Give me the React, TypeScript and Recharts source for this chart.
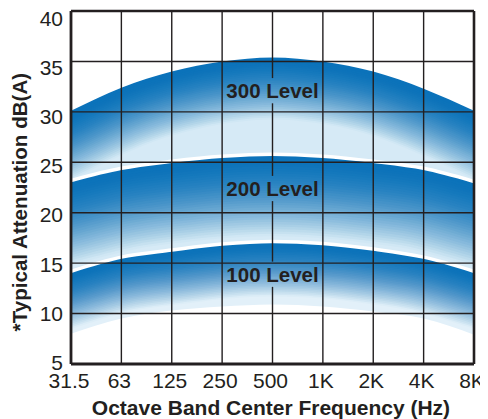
import React from 'react';
import { ComposedChart, Area, Line, XAxis, YAxis, ReferenceLine, ReferenceDot, Label } from 'recharts';

// ---- data ----
const frequencies = ['31.5', '63', '125', '250', '500', '1K', '2K', '4K', '8K'];
const top300 = [30.1, 32.4, 34.0, 35.0, 35.4, 35.0, 34.0, 32.3, 30.1];
const top200 = [23.2, 24.4, 25.1, 25.6, 25.8, 25.6, 25.1, 24.4, 23.1];
const top100 = [14.2, 15.6, 16.3, 16.9, 17.15, 16.95, 16.4, 15.6, 14.2];
const bottom100 = [8.0, 9.5, 10.3, 10.7, 10.9, 10.7, 10.2, 9.5, 7.9];
const yTicks = [5, 10, 15, 20, 25, 30, 35, 40];
const levelNames = ['300 Level', '200 Level', '100 Level'];

const Y_MIN = yTicks[0];
const Y_MAX = yTicks[yTicks.length - 1];

const rows = frequencies.map((f, i) => ({
  f,
  t300: top300[i],
  t200: top200[i],
  t100: top100[i],
  band300: [top200[i], top300[i]],
  band200: [top100[i], top200[i]],
  band100: [bottom100[i], top100[i]],
  sky: [top300[i], Y_MAX],
}));

// ---- styling ----
const FONT = '"Liberation Sans", Arial, Helvetica, sans-serif';
const INK = '#231f20';
const DARK = '#0b72ba';
const LIGHT = '#d6eaf6';
const LIGHT_LOW = '#e2f0f9';

// label centres (in axis units) and the half-gap they cut in the 500 Hz grid line
const labelCentres = [32.1, 22.4, 13.9];
const GAP = 1.25;

// layered strokes emulating a gradient that follows the top curve of each band
function strokeLayers(depth: number, n: number, p: number) {
  const out: { width: number; opacity: number }[] = [];
  let prev = 0;
  for (let c = 1; c <= n; c++) {
    const h = (depth * (n - c + 1)) / n;
    const hn = (depth * (n - c)) / n;
    const mid = (h + hn) / 2;
    const cov = Math.min(0.995, 1 - Math.pow(mid / depth, p));
    const alpha = 1 - (1 - cov) / (1 - prev);
    prev = cov;
    out.push({ width: 2 * h, opacity: Math.max(0, Math.min(1, alpha)) });
  }
  return out;
}

const LAYERS = 34;

const bands = [
  { key: 'band100', top: 't100', base: LIGHT_LOW, depth: 55, p: 1.7 },
  { key: 'band200', top: 't200', base: LIGHT, depth: 82, p: 1.7 },
  { key: 'band300', top: 't300', base: LIGHT, depth: 62, p: 1.7 },
];

const YTick = (props: any) => {
  const { x, y, payload } = props;
  const off = (payload.value - Y_MIN) * 0.25 - 1.5;
  return (
    <text x={x} y={y + off} dy="0.355em" textAnchor="end" fontSize={21} fill={INK} fontFamily={FONT}>
      {payload.value}
    </text>
  );
};

export default function App() {
  let z = 1;
  const items: React.ReactNode[] = [];

  bands.forEach((b) => {
    items.push(
      <Area
        key={b.key}
        dataKey={b.key}
        type="monotone"
        stroke="none"
        fill={b.base}
        fillOpacity={1}
        isAnimationActive={false}
        activeDot={false}
        dot={false}
        zIndex={z++}
      />
    );
    strokeLayers(b.depth, LAYERS, b.p).forEach((l, i) => {
      items.push(
        <Line
          key={`${b.key}-l${i}`}
          dataKey={b.top}
          type="monotone"
          stroke={DARK}
          strokeWidth={l.width}
          strokeOpacity={l.opacity}
          strokeLinecap="square"
          dot={false}
          activeDot={false}
          isAnimationActive={false}
          legendType="none"
          zIndex={z++}
        />
      );
    });
  });

  items.push(
    <Area
      key="sky"
      dataKey="sky"
      type="monotone"
      stroke="none"
      fill="#ffffff"
      fillOpacity={1}
      isAnimationActive={false}
      activeDot={false}
      dot={false}
      zIndex={z++}
    />
  );

  ['t200', 't100'].forEach((k) => {
    items.push(
      <Line
        key={`sep-${k}`}
        dataKey={k}
        type="monotone"
        stroke="#ffffff"
        strokeWidth={3.5}
        dot={false}
        activeDot={false}
        isAnimationActive={false}
        legendType="none"
        zIndex={z++}
      />
    );
  });

  // inner grid lines
  yTicks.slice(1, -1).forEach((v) => {
    items.push(<ReferenceLine key={`gy${v}`} y={v} stroke={INK} strokeWidth={1.4} zIndex={z++} />);
  });
  frequencies.slice(1, -1).forEach((f) => {
    if (f === '500') {
      const cuts = [Y_MAX];
      labelCentres.forEach((c) => {
        cuts.push(c + GAP, c - GAP);
      });
      cuts.push(Y_MIN);
      for (let i = 0; i < cuts.length; i += 2) {
        items.push(
          <ReferenceLine
            key={`g500-${i}`}
            segment={[
              { x: f, y: cuts[i] },
              { x: f, y: cuts[i + 1] },
            ]}
            stroke={INK}
            strokeWidth={1.4}
            zIndex={z++}
          />
        );
      }
    } else {
      items.push(<ReferenceLine key={`gx${f}`} x={f} stroke={INK} strokeWidth={1.4} zIndex={z++} />);
    }
  });

  // frame
  items.push(<ReferenceLine key="fTop" y={Y_MAX} stroke={INK} strokeWidth={2.6} zIndex={z++} />);
  items.push(<ReferenceLine key="fBottom" y={Y_MIN} stroke={INK} strokeWidth={2.8} zIndex={z++} />);
  items.push(<ReferenceLine key="fLeft" x={frequencies[0]} stroke={INK} strokeWidth={2.8} zIndex={z++} />);
  items.push(<ReferenceLine key="fRight" x={frequencies[frequencies.length - 1]} stroke={INK} strokeWidth={2.6} zIndex={z++} />);

  // band labels
  levelNames.forEach((name, i) => {
    items.push(
      <ReferenceDot
        key={`lbl${i}`}
        x="500"
        y={labelCentres[i]}
        r={1}
        fill="none"
        stroke="none"
        zIndex={z++}
        label={{
          content: (p: any) => {
            const vb = p.viewBox || {};
            const cx = (vb.x || 0) + (vb.width || 0) / 2;
            const cy = (vb.y || 0) + (vb.height || 0) / 2;
            return (
              <text
                x={cx}
                y={cy}
                dy="0.355em"
                textAnchor="middle"
                fontSize={20.5}
                fontWeight="bold"
                fill={INK}
                fontFamily={FONT}
              >
                {name}
              </text>
            );
          },
        }}
      />
    );
  });

  return (
    <ComposedChart width={480} height={411} data={rows} margin={{ top: 3, right: 14, bottom: 0, left: 0 }}>
      <XAxis
        dataKey="f"
        type="category"
        scale="point"
        padding={{ left: 0, right: 0 }}
        allowDataOverflow
        axisLine={false}
        tickLine={false}
        interval={0}
        height={55}
        tickMargin={3}
        tick={{ fontSize: 21, fill: INK, fontFamily: FONT, dx: -2 }}
      >
        <Label
          content={(p: any) => {
            const vb = p.viewBox || {};
            return (
              <text
                x={(vb.x || 0) + (vb.width || 0) / 2 - 1.5}
                y={407}
                textAnchor="middle"
                fontSize={21}
                fontWeight="bold"
                fill={INK}
                fontFamily={FONT}
              >
                Octave Band Center Frequency (Hz)
              </text>
            );
          }}
        />
      </XAxis>
      <YAxis
        type="number"
        domain={[Y_MIN, Y_MAX]}
        ticks={yTicks}
        allowDataOverflow
        width={63}
        axisLine={false}
        tickLine={false}
        interval={0}
        tick={<YTick />}
      >
        <Label
          content={(p: any) => {
            const vb = p.viewBox || {};
            const cx = 19.5;
            const cy = (vb.y || 0) + (vb.height || 0) / 2 + 14.6;
            return (
              <text
                x={cx}
                y={cy}
                transform={`rotate(-90, ${cx}, ${cy})`}
                textAnchor="middle"
                fontSize={20.6}
                fontWeight="bold"
                fill={INK}
                fontFamily={FONT}
              >
                *Typical Attenuation dB(A)
              </text>
            );
          }}
        />
      </YAxis>
      {items}
    </ComposedChart>
  );
}
